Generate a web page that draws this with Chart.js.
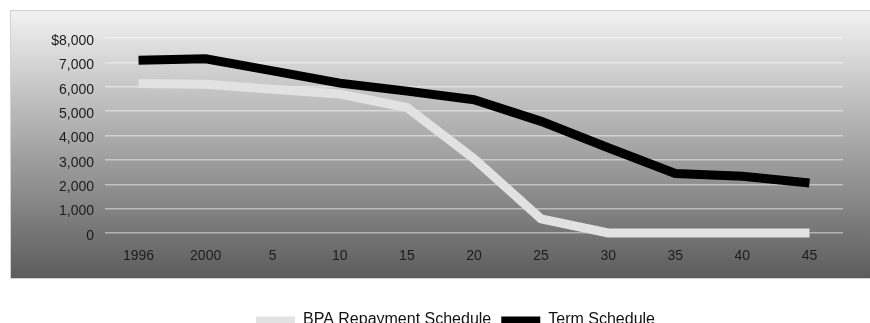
<!DOCTYPE html>
<html>
<head>
<meta charset="utf-8">
<script src="https://cdn.jsdelivr.net/npm/chart.js@4.4.1/dist/chart.umd.min.js"></script>
<style>
  body {
    margin: 0;
    overflow: hidden;
    background: #ffffff;
  }

  #wrap {
    position: absolute;
    left: 0;
    top: 0;
    width: 911px;
    height: 338px;
  }
</style>
</head>
<body>
<div id="wrap"><canvas id="scheduleChart"></canvas></div>
<script>
// ======================================
// Adatok
// ======================================

const years = ["1996", "2000", "5", "10", "15", "20", "25", "30", "35", "40", "45"];

const bpaRepayment = [6130, 6100, 5900, 5700, 5150, 3050, 580, 0, 0, 0, 0];

const termSchedule = [7090, 7150, 6650, 6150, 5820, 5470, 4580, 3500, 2440, 2330, 2050];

const seriesNames = ["BPA Repayment Schedule", "Term Schedule"];


// ======================================
// Színátmenetes háttér
// ======================================

const panelBackground = {
  id: "panelBackground",
  beforeDraw(chart) {
    const ctx = chart.ctx;
    const top = 10;
    const bottom = 278;
    const left = 10;

    const gradient = ctx.createLinearGradient(0, top, 0, bottom);
    gradient.addColorStop(0, "#f2f2f2");
    gradient.addColorStop(1, "#5c5c5c");

    ctx.save();
    ctx.fillStyle = gradient;
    ctx.fillRect(left, top, chart.width - left, bottom - top);
    ctx.strokeStyle = "#d2d2d2";
    ctx.lineWidth = 1;
    ctx.strokeRect(left + 0.5, top + 0.5, chart.width, bottom - top);
    ctx.restore();
  }
};


// ======================================
// Diagram
// ======================================

const fontFamily = "'Liberation Sans', Arial, Helvetica, sans-serif";

new Chart(document.getElementById("scheduleChart"), {
  type: "line",
  data: {
    labels: years,
    datasets: [
      {
        label: seriesNames[0],
        data: bpaRepayment,
        borderColor: "#e2e2e2",
        backgroundColor: "#e2e2e2",
        borderWidth: 9,
        pointRadius: 0,
        tension: 0,
        clip: false,
        order: 1
      },
      {
        label: seriesNames[1],
        data: termSchedule,
        borderColor: "#000000",
        backgroundColor: "#000000",
        borderWidth: 9,
        pointRadius: 0,
        tension: 0,
        clip: false,
        order: 0
      }
    ]
  },
  options: {
    responsive: true,
    maintainAspectRatio: false,
    animation: false,
    layout: {
      padding: {
        top: 38,
        right: 0,
        left: 0,
        bottom: 0
      }
    },
    plugins: {
      legend: {
        position: "bottom",
        labels: {
          color: "#111111",
          boxWidth: 39,
          boxHeight: 7,
          padding: 10,
          font: {
            family: fontFamily,
            size: 16
          },
          sort: (a, b) => a.datasetIndex - b.datasetIndex,
          generateLabels: (chart) => {
            return Chart.defaults.plugins.legend.labels
              .generateLabels(chart)
              .map((item) => ({ ...item, lineWidth: 0 }));
          }
        }
      },
      tooltip: {
        enabled: false
      }
    },
    scales: {
      x: {
        offset: true,
        grid: {
          display: false,
          offset: true
        },
        border: {
          display: false
        },
        ticks: {
          color: "#1c1c1c",
          padding: 7,
          font: {
            family: fontFamily,
            size: 14
          }
        },
        afterFit: (scale) => {
          scale.height = 69;
        }
      },
      y: {
        min: 0,
        max: 8000,
        border: {
          display: false
        },
        grid: {
          color: "rgba(255, 255, 255, 0.45)",
          lineWidth: 1.5,
          drawTicks: false
        },
        ticks: {
          stepSize: 1000,
          color: "#1c1c1c",
          padding: 11,
          labelOffset: 3,
          font: {
            family: fontFamily,
            size: 14
          },
          callback: (value) => {
            if (value === 8000) {
              return "$8,000";
            }

            return value.toLocaleString("en-US");
          }
        },
        afterFit: (scale) => {
          scale.width = 105;
        }
      },
      // üres jobb oldali tengely, hogy a rajzterület 843px-nél érjen véget
      yRight: {
        position: "right",
        min: 0,
        max: 8000,
        grid: {
          display: false
        },
        border: {
          display: false
        },
        ticks: {
          display: false
        },
        afterFit: (scale) => {
          scale.width = 68;
        }
      }
    }
  },
  plugins: [panelBackground]
});
</script>
</body>
</html>
